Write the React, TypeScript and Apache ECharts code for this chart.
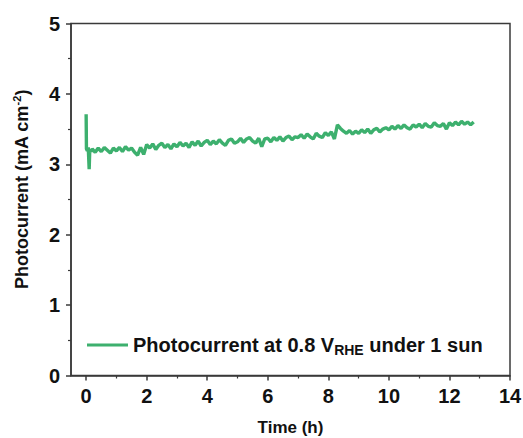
import React, { useEffect, useRef } from "react";
import * as echarts from "echarts";

// Time (h) and photocurrent (mA cm^-2)
const timeH = [
  0, 0.01, 0.04, 0.07, 0.1, 0.12, 0.16,
  0.2, 0.3, 0.4, 0.5, 0.6, 0.7, 0.8, 0.9,
  1.0, 1.1, 1.2, 1.3, 1.4, 1.5, 1.6, 1.7, 1.8, 1.9,
  2.0, 2.1, 2.2, 2.3, 2.4, 2.5, 2.6, 2.7, 2.8, 2.9,
  3.0, 3.1, 3.2, 3.3, 3.4, 3.5, 3.6, 3.7, 3.8, 3.9,
  4.0, 4.1, 4.2, 4.3, 4.4, 4.5, 4.6, 4.7, 4.8, 4.9,
  5.0, 5.1, 5.2, 5.3, 5.4, 5.5, 5.6, 5.7, 5.8, 5.9,
  6.0, 6.1, 6.2, 6.3, 6.4, 6.5, 6.6, 6.7, 6.8, 6.9,
  7.0, 7.1, 7.2, 7.3, 7.4, 7.5, 7.6, 7.7, 7.8, 7.9,
  8.0, 8.1, 8.2, 8.3, 8.4, 8.5, 8.6, 8.7, 8.8, 8.9,
  9.0, 9.1, 9.2, 9.3, 9.4, 9.5, 9.6, 9.7, 9.8, 9.9,
  10.0, 10.1, 10.2, 10.3, 10.4, 10.5, 10.6, 10.7, 10.8, 10.9,
  11.0, 11.1, 11.2, 11.3, 11.4, 11.5, 11.6, 11.7, 11.8, 11.9,
  12.0, 12.1, 12.2, 12.3, 12.4, 12.5, 12.6, 12.7, 12.8,
];

const currentMA = [
  3.71, 3.22, 3.19, 3.24, 2.93, 3.21, 3.18,
  3.22, 3.17, 3.23, 3.18, 3.24, 3.20, 3.16, 3.23,
  3.19, 3.24, 3.18, 3.25, 3.20, 3.23, 3.17, 3.13, 3.24, 3.14,
  3.28, 3.23, 3.29, 3.21, 3.27, 3.30, 3.24, 3.28, 3.22, 3.29,
  3.25, 3.31, 3.26, 3.30, 3.24, 3.32, 3.27, 3.33, 3.26, 3.31,
  3.34, 3.28, 3.33, 3.29, 3.35, 3.30, 3.27, 3.34, 3.36, 3.30,
  3.32, 3.37, 3.31, 3.36, 3.38, 3.33, 3.30, 3.37, 3.25, 3.36,
  3.37, 3.32, 3.38, 3.34, 3.39, 3.33, 3.38, 3.40, 3.35, 3.39,
  3.38, 3.42, 3.37, 3.43, 3.39, 3.36, 3.44, 3.40, 3.38, 3.45,
  3.41, 3.46, 3.36, 3.56, 3.51, 3.47, 3.44, 3.48, 3.43, 3.47,
  3.44, 3.49, 3.45, 3.50, 3.44, 3.49, 3.51, 3.46, 3.50, 3.52,
  3.49, 3.54, 3.50, 3.55, 3.51, 3.56, 3.52, 3.50, 3.56, 3.53,
  3.57, 3.52, 3.58, 3.54, 3.53, 3.59, 3.55, 3.54, 3.58, 3.50,
  3.59, 3.55, 3.60, 3.56, 3.61, 3.57, 3.60, 3.56, 3.60,
];

const xMajorTicks = [0, 2, 4, 6, 8, 10, 12, 14];
const xMinorTicks = [1, 3, 5, 7, 9, 11, 13];

const seriesName = "Photocurrent at 0.8 V_RHE under 1 sun";

const FONT = "'Liberation Sans', Arial, Helvetica, sans-serif";
const AXIS_COLOR = "#3a3a3a";
const LINE_COLOR = "#3DB06E";

export default function App() {
  const ref = useRef<HTMLDivElement>(null);

  useEffect(() => {
    if (!ref.current) return;
    const chart = echarts.init(ref.current, undefined, { renderer: "svg" });
    const data = timeH.map((t, i) => [t, currentMA[i]]);

    const labelStyle = {
      color: "#111",
      fontFamily: FONT,
      fontWeight: "bold" as const,
      fontSize: 20,
    };

    chart.setOption({
      animation: false,
      backgroundColor: "#ffffff",
      grid: {
        left: 71,
        right: 13,
        top: 23.5,
        bottom: 62.5,
        containLabel: false,
        outerBoundsMode: "none",
        show: true,
        borderColor: AXIS_COLOR,
        borderWidth: 1.5,
        backgroundColor: "transparent",
      },
      legend: {
        show: true,
        left: 87,
        top: 333,
        padding: 0,
        icon: "rect",
        itemWidth: 41,
        itemHeight: 3,
        data: [seriesName],
        formatter: () => "{a|Photocurrent at 0.8 V}{s|RHE}{a| under 1 sun}",
        textStyle: {
          fontFamily: FONT,
          fontWeight: "bold",
          color: "#111",
          fontSize: 20,
          rich: {
            a: { fontFamily: FONT, fontWeight: "bold", fontSize: 20, color: "#111", lineHeight: 24, verticalAlign: "middle" },
            s: { fontFamily: FONT, fontWeight: "bold", fontSize: 14, color: "#111", lineHeight: 24, verticalAlign: "bottom", padding: [10, 0, 0, 0] },
          },
        },
      },
      xAxis: [
        {
          type: "value",
          min: -0.5,
          max: 14,
          position: "bottom",
          name: "Time (h)",
          nameLocation: "middle",
          nameGap: 43,
          nameTextStyle: { ...labelStyle, fontSize: 17 },
          axisLine: { show: true, onZero: false, lineStyle: { color: AXIS_COLOR, width: 1.5 } },
          axisTick: { show: true, inside: false, length: 5, customValues: xMajorTicks, lineStyle: { color: AXIS_COLOR, width: 1.5 } },
          axisLabel: { show: true, margin: 10, customValues: xMajorTicks, ...labelStyle },
          splitLine: { show: false },
        },
        {
          type: "value",
          min: -0.5,
          max: 14,
          position: "bottom",
          offset: 0,
          axisLine: { show: false },
          axisTick: { show: true, inside: false, length: 3, customValues: xMinorTicks, lineStyle: { color: AXIS_COLOR, width: 1.2 } },
          axisLabel: { show: false },
          splitLine: { show: false },
        },
      ],
      yAxis: {
        type: "value",
        min: 0,
        max: 5,
        interval: 1,
        name: "{a|Photocurrent (mA cm}{s|-2}{a|)}",
        nameLocation: "middle",
        nameGap: 38,
        nameRotate: 90,
        nameTextStyle: {
          ...labelStyle,
          fontSize: 18,
          padding: [0, 0, 0, 20],
          rich: {
            a: { fontFamily: FONT, fontWeight: "bold", fontSize: 18, color: "#111", lineHeight: 22, verticalAlign: "middle" },
            s: { fontFamily: FONT, fontWeight: "bold", fontSize: 11, color: "#111", lineHeight: 22, verticalAlign: "top", padding: [0, 0, 8, 0] },
          },
        },
        axisLine: { show: true, onZero: false, lineStyle: { color: AXIS_COLOR, width: 1.5 } },
        axisTick: { show: true, inside: false, length: 5, lineStyle: { color: AXIS_COLOR, width: 1.5 } },
        minorTick: { show: true, splitNumber: 2, length: 3, lineStyle: { color: AXIS_COLOR, width: 1.2 } },
        axisLabel: { margin: 11, ...labelStyle },
        splitLine: { show: false },
        minorSplitLine: { show: false },
      },
      series: [
        {
          name: seriesName,
          type: "line",
          xAxisIndex: 0,
          data,
          showSymbol: false,
          symbol: "none",
          lineStyle: { color: LINE_COLOR, width: 3.4 },
          itemStyle: { color: LINE_COLOR },
        },
      ],
    });

    return () => chart.dispose();
  }, []);

  return (
    <div
      ref={ref}
      style={{ position: "fixed", left: 0, top: 0, width: 523, height: 438, background: "#fff" }}
    />
  );
}
